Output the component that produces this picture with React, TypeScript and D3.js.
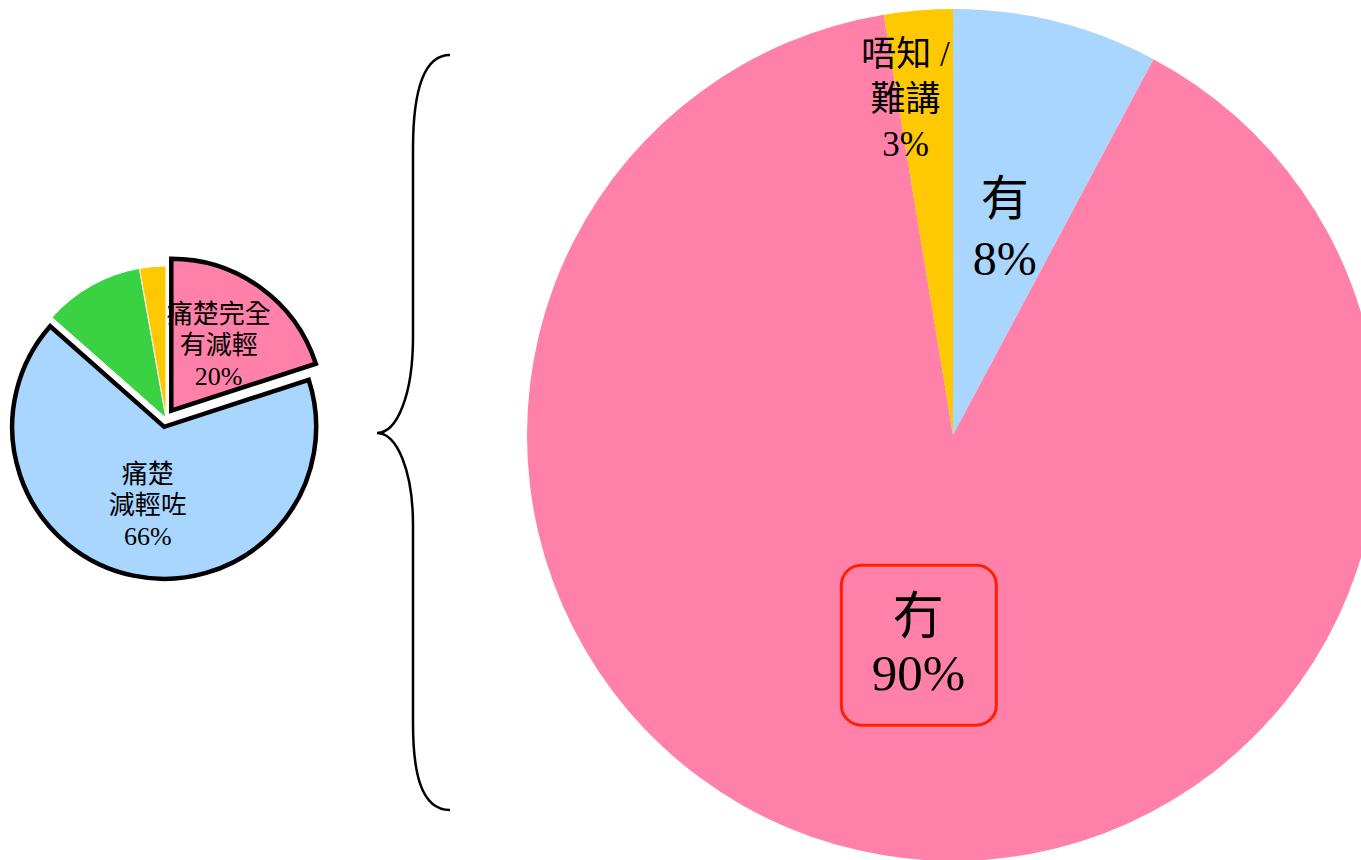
import React from 'react';
import * as d3 from 'd3';

// small pie (left): pain relief breakdown
const smallLabels = ['痛楚完全\n有減輕', '痛楚\n減輕咗', '', ''];
const smallValues = [20, 66.5, 10.7, 2.8];
const smallPct = ['20%', '66%', '', ''];
const smallColors = ['#FF80A8', '#A9D6FF', '#3AD143', '#FFC800'];
const smallExploded = [true, true, false, false];

// big pie (right): detail
const bigLabels = ['有', '冇', '唔知 /\n難講'];
const bigValues = [7.8, 89.6, 2.6];
const bigColors = ['#A9D6FF', '#FF80A8', '#FFC800'];

const W = 1361;
const H = 860;
const FONT = "'Liberation Serif', 'Times New Roman', 'Noto Sans CJK TC', serif";

const App = () => {
  // small pie
  const sCx = 166, sCy = 418, sR = 152, explode = 9;
  const sPie = d3.pie<number>().sort(null).value(d => d)(smallValues);
  const sArc = d3.arc<d3.PieArcDatum<number>>().innerRadius(0).outerRadius(sR);
  const sLabelArc = d3.arc<d3.PieArcDatum<number>>().innerRadius(sR * 0.53).outerRadius(sR * 0.53);
  const offset = (d: d3.PieArcDatum<number>, i: number) => {
    if (!smallExploded[i]) return [0, 0];
    const a = (d.startAngle + d.endAngle) / 2;
    return [Math.sin(a) * explode, -Math.cos(a) * explode];
  };
  const order = [2, 3, 0, 1];

  // big pie
  const bCx = 953, bCy = 435, bR = 426;
  const bPie = d3.pie<number>().sort(null).value(d => d)(bigValues);
  const bArc = d3.arc<d3.PieArcDatum<number>>().innerRadius(0).outerRadius(bR);
  const bLabelArc = d3.arc<d3.PieArcDatum<number>>().innerRadius(bR * 0.5).outerRadius(bR * 0.5);
  const bOuterLabelArc = d3.arc<d3.PieArcDatum<number>>().innerRadius(bR * 0.79).outerRadius(bR * 0.79);

  const bLabelPos = bPie.map((d, i) => {
    if (i === 2) {
      const [x, y] = bOuterLabelArc.centroid(d);
      return [x - 20, y];
    }
    return bLabelArc.centroid(d);
  });
  const bFont = [48, 51, 35];
  const bLine = [60, 56, 45];

  const brace = 'M450,55 C420,55 413,100 413,149 L413,337 C413,395 397,433 377,433 C397,433 413,471 413,525 L413,723 C413,770 420,810 450,810';

  return (
    <svg width={W} height={H} style={{ position: 'absolute', left: 0, top: 0, background: '#fff' }} fontFamily={FONT}>
      {/* small pie */}
      <g transform={`translate(${sCx},${sCy})`}>
        {order.map(i => {
          const d = sPie[i];
          const [ox, oy] = offset(d, i);
          return (
            <path
              key={i}
              d={sArc(d) || ''}
              transform={`translate(${ox},${oy})`}
              fill={smallColors[i]}
              stroke={smallExploded[i] ? '#000' : '#fff'}
              strokeWidth={smallExploded[i] ? 4.5 : 1}
              strokeLinejoin="miter"
            />
          );
        })}
        {sPie.map((d, i) => {
          if (!smallLabels[i]) return null;
          const [ox, oy] = offset(d, i);
          const [x, y] = sLabelArc.centroid(d);
          const lines = [...smallLabels[i].split('\n'), smallPct[i]];
          const lh = 31;
          return (
            <text key={i} textAnchor="middle" fontSize={26} fill="#000">
              {lines.map((l, k) => (
                <tspan key={k} x={x + ox} y={y + oy + (k - (lines.length - 1) / 2) * lh} dominantBaseline="central">{l}</tspan>
              ))}
            </text>
          );
        })}
      </g>

      {/* brace */}
      <path d={brace} fill="none" stroke="#000" strokeWidth={2.5} />

      {/* big pie */}
      <g transform={`translate(${bCx},${bCy})`}>
        {bPie.map((d, i) => (
          <path key={i} d={bArc(d) || ''} fill={bigColors[i]} stroke="none" />
        ))}
        {bPie.map((d, i) => {
          const [x, y] = bLabelPos[i];
          const lines = [...bigLabels[i].split('\n'), `${Math.round(bigValues[i])}%`];
          const lh = bLine[i];
          return (
            <g key={i}>
              {i === 1 && (
                <rect x={x - 77} y={y - 80} width={155} height={160} rx={20} ry={20} fill="none" stroke="#FF2000" strokeWidth={3} />
              )}
              <text textAnchor="middle" fontSize={bFont[i]} fill="#000">
                {lines.map((l, k) => (
                  <tspan key={k} x={x} y={y + (k - (lines.length - 1) / 2) * lh} dominantBaseline="central">{l}</tspan>
                ))}
              </text>
            </g>
          );
        })}
      </g>
    </svg>
  );
};

export default App;
